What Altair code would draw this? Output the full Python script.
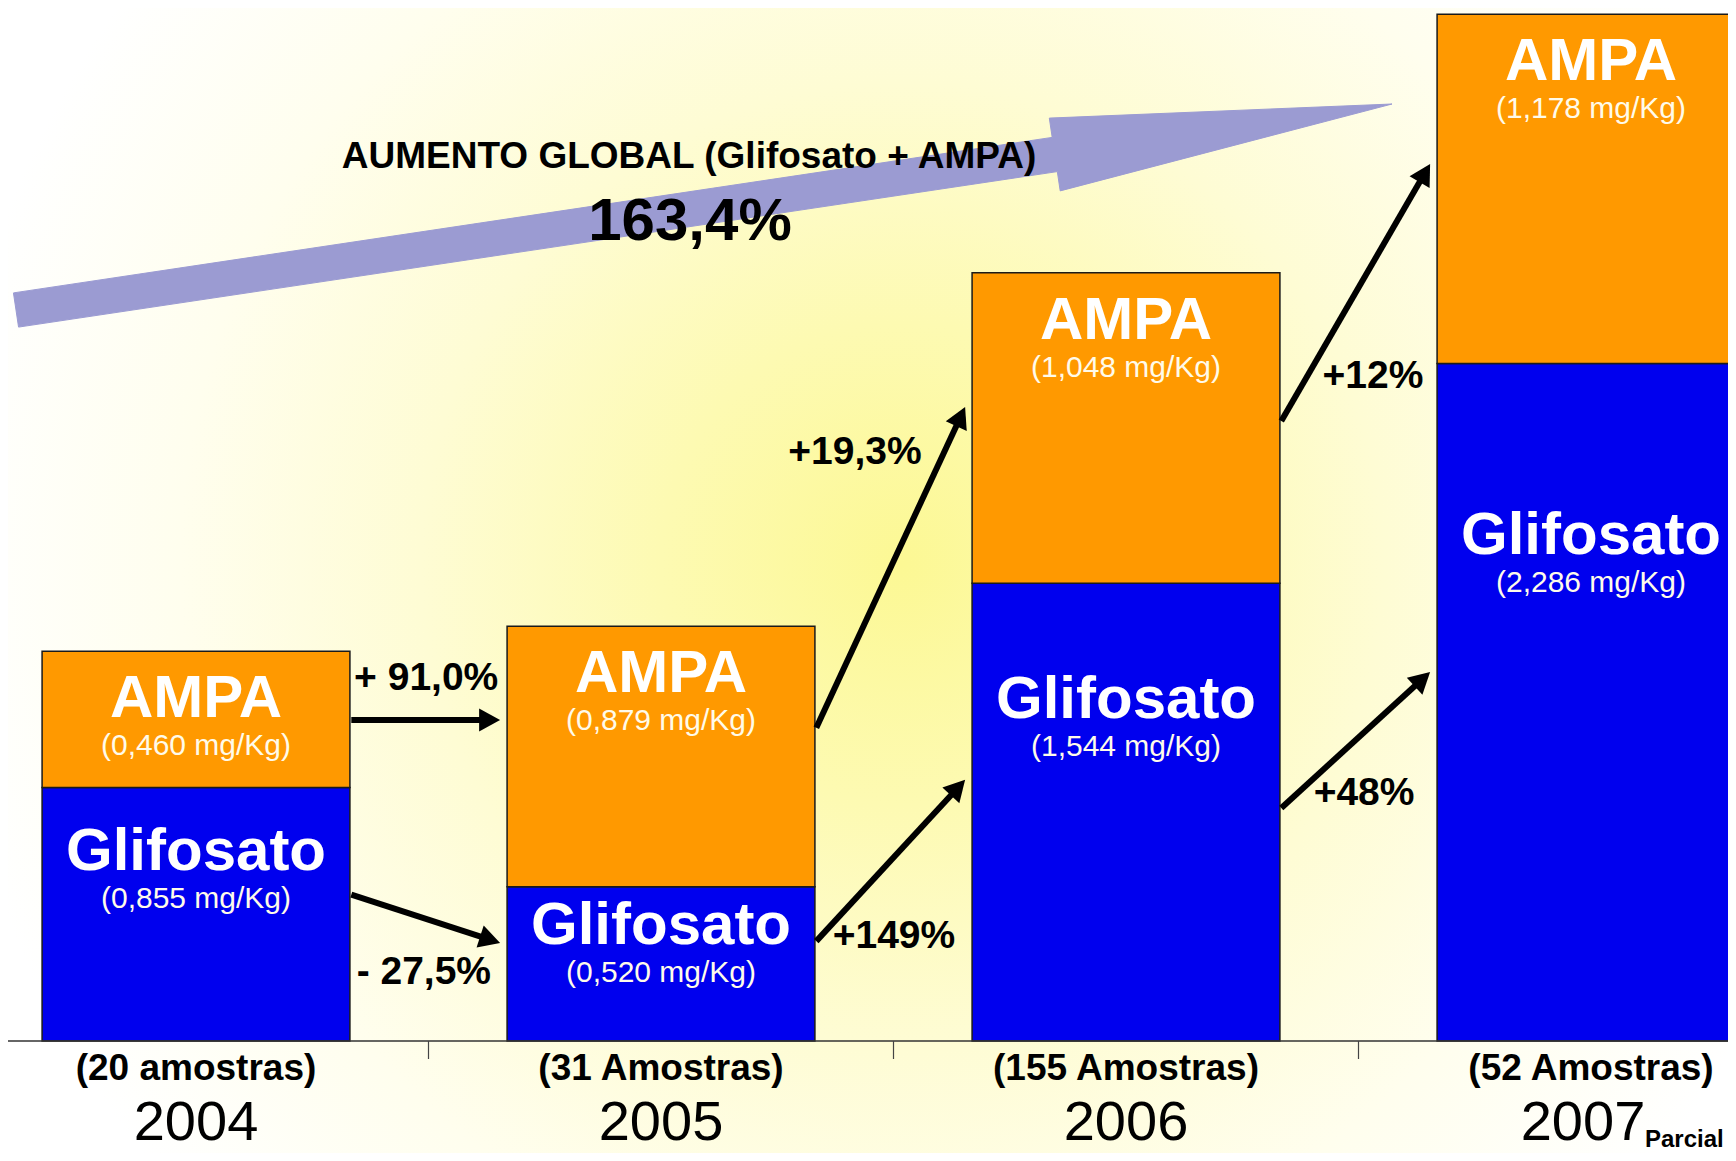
import math
import altair as alt
import pandas as pd

# ---------------- data ----------------
years = [2004, 2005, 2006, 2007]
glifosato = [0.855, 0.520, 1.544, 2.286]
ampa = [0.460, 0.879, 1.048, 1.178]
glifosato_labels = ["(0,855 mg/Kg)", "(0,520 mg/Kg)", "(1,544 mg/Kg)", "(2,286 mg/Kg)"]
ampa_labels = ["(0,460 mg/Kg)", "(0,879 mg/Kg)", "(1,048 mg/Kg)", "(1,178 mg/Kg)"]
sample_labels = ["(20 amostras)", "(31 Amostras)", "(155 Amostras)", "(52 Amostras)"]
year_labels = ["2004", "2005", "2006", "2007"]
year_notes = ["", "", "", "Parcial"]

change_from = [2004, 2004, 2005, 2005, 2006, 2006]
change_labels = ["+ 91,0%", "- 27,5%", "+19,3%", "+149%", "+12%", "+48%"]

global_title = "AUMENTO GLOBAL (Glifosato + AMPA)"
global_change = "163,4%"

# ---------------- layout (annotation anchors, in data units) ----------------
arrow_y_start = [1.083, 0.494, 1.057, 0.337, 2.092, 0.786]
arrow_y_end = [1.083, 0.331, 2.139, 0.881, 2.959, 1.245]
label_x = [2004.495, 2004.490, 2005.417, 2005.501, 2006.531, 2006.512]
label_y = [1.226, 0.233, 1.987, 0.353, 2.244, 0.837]

W, H = 1720, 1145
PX_YEAR = 465.0
X_FIRST = 188.0
BASE = 1033.0
PX_UNIT = 296.4
X_DOMAIN = [2004 - X_FIRST / PX_YEAR, 2004 + (W - X_FIRST) / PX_YEAR]
Y_DOMAIN = [-(H - BASE) / PX_UNIT, BASE / PX_UNIT]
BAR_HALF = 0.331

FONT = "Liberation Sans"
BLUE = "#0000ee"
ORANGE = "#ff9900"
LAVENDER = "#9b9bd2"


def x_px(x):
    return (x - X_DOMAIN[0]) * PX_YEAR


def y_px(y):
    return BASE - y * PX_UNIT


def px_x(p):
    return X_DOMAIN[0] + p / PX_YEAR


def px_y(p):
    return (BASE - p) / PX_UNIT


xs = alt.Scale(domain=X_DOMAIN, nice=False, zero=False)
ys = alt.Scale(domain=Y_DOMAIN, nice=False, zero=False)

# ---------------- background ----------------
bg = alt.Chart(pd.DataFrame({"a": [0]})).mark_rect(
    fill={
        "gradient": "radial",
        "x1": 0.52, "y1": 0.49, "r1": 0,
        "x2": 0.52, "y2": 0.49, "r2": 0.56,
        "stops": [
            {"offset": 0.0, "color": "#fcf894"},
            {"offset": 0.25, "color": "#fdfab2"},
            {"offset": 0.5, "color": "#fefcd4"},
            {"offset": 0.75, "color": "#fffeee"},
            {"offset": 1.0, "color": "#ffffff"},
        ],
    }
).encode(x=alt.value(0), x2=alt.value(W), y=alt.value(0), y2=alt.value(H))

# ---------------- big global arrow ----------------
S = (8.0, 302.0)
T = (1384.0, 96.0)
L = math.hypot(T[0] - S[0], T[1] - S[1])
ux, uy = (T[0] - S[0]) / L, (T[1] - S[1]) / L
nx, ny = -uy, ux
head_len, shaft_hw, head_hw = 341.0, 17.3, 36.8
B = (T[0] - head_len * ux, T[1] - head_len * uy)
poly_px = [
    (S[0] + nx * shaft_hw, S[1] + ny * shaft_hw),
    (B[0] + nx * shaft_hw, B[1] + ny * shaft_hw),
    (B[0] + nx * head_hw, B[1] + ny * head_hw),
    T,
    (B[0] - nx * head_hw, B[1] - ny * head_hw),
    (B[0] - nx * shaft_hw, B[1] - ny * shaft_hw),
    (S[0] - nx * shaft_hw, S[1] - ny * shaft_hw),
    (S[0] + nx * shaft_hw, S[1] + ny * shaft_hw),
]
big_df = pd.DataFrame({
    "i": list(range(len(poly_px))),
    "x": [px_x(p[0]) for p in poly_px],
    "y": [px_y(p[1]) for p in poly_px],
})
big_arrow = alt.Chart(big_df).mark_line(
    fill=LAVENDER, stroke=LAVENDER, strokeWidth=1, interpolate="linear"
).encode(
    x=alt.X("x:Q", scale=xs, axis=None),
    y=alt.Y("y:Q", scale=ys, axis=None),
    order="i:Q",
)

# ---------------- stacked bars ----------------
bar_rows = []
for yr, g, a in zip(years, glifosato, ampa):
    bar_rows.append({"year": yr, "serie": "Glifosato", "start": 0.0, "end": g})
    bar_rows.append({"year": yr, "serie": "AMPA", "start": g, "end": g + a})
bars_df = pd.DataFrame(bar_rows)
bars = alt.Chart(bars_df).transform_calculate(
    xa=f"datum.year - {BAR_HALF}", xb=f"datum.year + {BAR_HALF}"
).mark_rect(stroke="#1a1a1a", strokeWidth=1.5, clip=True).encode(
    x=alt.X("xa:Q", scale=xs, axis=None),
    x2="xb:Q",
    y=alt.Y("start:Q", scale=ys, axis=None),
    y2="end:Q",
    color=alt.Color("serie:N", scale=alt.Scale(domain=["Glifosato", "AMPA"], range=[BLUE, ORANGE]), legend=None),
)

# ---------------- bar labels ----------------
lab_rows = []
for yr, g, a, gl, al in zip(years, glifosato, ampa, glifosato_labels, ampa_labels):
    lab_rows.append({"year": yr, "name": "AMPA", "sub": al, "ly": g + a - 48.0 / PX_UNIT})
    lab_rows.append({"year": yr, "name": "Glifosato", "sub": gl, "ly": g * 0.745})
lab_df = pd.DataFrame(lab_rows)
bar_titles = alt.Chart(lab_df).mark_text(
    font=FONT, fontSize=60, fontWeight="bold", color="white", baseline="middle", align="center"
).encode(
    x=alt.X("year:Q", scale=xs, axis=None),
    y=alt.Y("ly:Q", scale=ys, axis=None),
    text="name:N",
)
bar_subs = alt.Chart(lab_df).mark_text(
    font=FONT, fontSize=30, color="#fffbea", baseline="middle", align="center", dy=47
).encode(
    x=alt.X("year:Q", scale=xs, axis=None),
    y=alt.Y("ly:Q", scale=ys, axis=None),
    text="sub:N",
)

# ---------------- change arrows ----------------
HEAD_PATH = "M0,0L0.55,1L-0.55,1Z"
HEAD_LEN = 21.0
arr_rows = []
for i, yr in enumerate(change_from):
    x0 = yr + BAR_HALF + 0.003
    x1 = yr + 1 - BAR_HALF - 0.015
    p0 = (x_px(x0), y_px(arrow_y_start[i]))
    p1 = (x_px(x1), y_px(arrow_y_end[i]))
    d = math.hypot(p1[0] - p0[0], p1[1] - p0[1])
    vx, vy = (p1[0] - p0[0]) / d, (p1[1] - p0[1]) / d
    le = (p1[0] - 14 * vx, p1[1] - 14 * vy)
    ang = math.degrees(math.atan2(vx, -vy)) % 360
    arr_rows.append({
        "x": x0, "y": arrow_y_start[i],
        "xe": px_x(le[0]), "ye": px_y(le[1]),
        "tx": x1, "ty": arrow_y_end[i],
        "angle": ang,
        "lx": label_x[i], "lyy": label_y[i], "label": change_labels[i],
    })
arr_df = pd.DataFrame(arr_rows)
arrow_lines = alt.Chart(arr_df).mark_rule(color="black", strokeWidth=6, strokeCap="butt").encode(
    x=alt.X("x:Q", scale=xs, axis=None),
    y=alt.Y("y:Q", scale=ys, axis=None),
    x2="xe:Q",
    y2="ye:Q",
)
arrow_heads = alt.Chart(arr_df).mark_point(
    shape=HEAD_PATH, size=(2 * HEAD_LEN) ** 2, filled=True, color="black", opacity=1, strokeWidth=0
).encode(
    x=alt.X("tx:Q", scale=xs, axis=None),
    y=alt.Y("ty:Q", scale=ys, axis=None),
    angle=alt.Angle("angle:Q", scale=None),
)
change_text = alt.Chart(arr_df).mark_text(
    font=FONT, fontSize=39, fontWeight="bold", color="black", baseline="middle", align="center"
).encode(
    x=alt.X("lx:Q", scale=xs, axis=None),
    y=alt.Y("lyy:Q", scale=ys, axis=None),
    text="label:N",
)

# ---------------- global annotation ----------------
g_title = alt.Chart(pd.DataFrame({"t": [global_title]})).mark_text(
    font=FONT, fontSize=37, fontWeight="bold", color="black", baseline="middle", align="center"
).encode(x=alt.value(681), y=alt.value(149), text="t:N")
g_value = alt.Chart(pd.DataFrame({"t": [global_change]})).mark_text(
    font=FONT, fontSize=60, fontWeight="bold", color="black", baseline="middle", align="center"
).encode(x=alt.value(682), y=alt.value(214), text="t:N")

# ---------------- axis (baseline, ticks, labels) ----------------
baseline = alt.Chart(pd.DataFrame({"y": [0.0]})).mark_rule(color="#333333", strokeWidth=1.5).encode(
    y=alt.Y("y:Q", scale=ys, axis=None), x=alt.value(0), x2=alt.value(W)
)
ticks = alt.Chart(pd.DataFrame({"b": [y + 0.5 for y in years[:-1]]})).mark_rule(
    color="#444444", strokeWidth=1.2
).encode(x=alt.X("b:Q", scale=xs, axis=None), y=alt.value(BASE), y2=alt.value(BASE + 18))

ax_df = pd.DataFrame({
    "year": years,
    "sample": sample_labels,
    "ylab": year_labels,
    "note": year_notes,
})
ax_df["yx"] = [yr - (8.0 / PX_YEAR if n else 0.0) for yr, n in zip(years, year_notes)]
ax_df["nx"] = [yr + 54.0 / PX_YEAR for yr in years]

sample_text = alt.Chart(ax_df).mark_text(
    font=FONT, fontSize=37, fontWeight="bold", color="black", baseline="middle", align="center"
).encode(x=alt.X("year:Q", scale=xs, axis=None), y=alt.value(1061), text="sample:N")
year_text = alt.Chart(ax_df).mark_text(
    font=FONT, fontSize=56, color="black", baseline="bottom", align="center"
).encode(x=alt.X("yx:Q", scale=xs, axis=None), y=alt.value(H - 1), text="ylab:N")
note_text = alt.Chart(ax_df).transform_filter("datum.note != ''").mark_text(
    font=FONT, fontSize=24, fontWeight="bold", color="black", baseline="bottom", align="left"
).encode(x=alt.X("nx:Q", scale=xs, axis=None), y=alt.value(H - 1), text="note:N")

chart = alt.layer(
    bg, big_arrow, bars, bar_titles, bar_subs,
    arrow_lines, arrow_heads, change_text,
    g_title, g_value, baseline, ticks,
    sample_text, year_text, note_text,
).properties(
    width=W, height=H, padding=0,
    autosize=alt.AutoSizeParams(type="none"),
    background="white",
).configure_view(stroke=None)

chart.save("out.html", embed_options={"renderer": "svg", "actions": False})
